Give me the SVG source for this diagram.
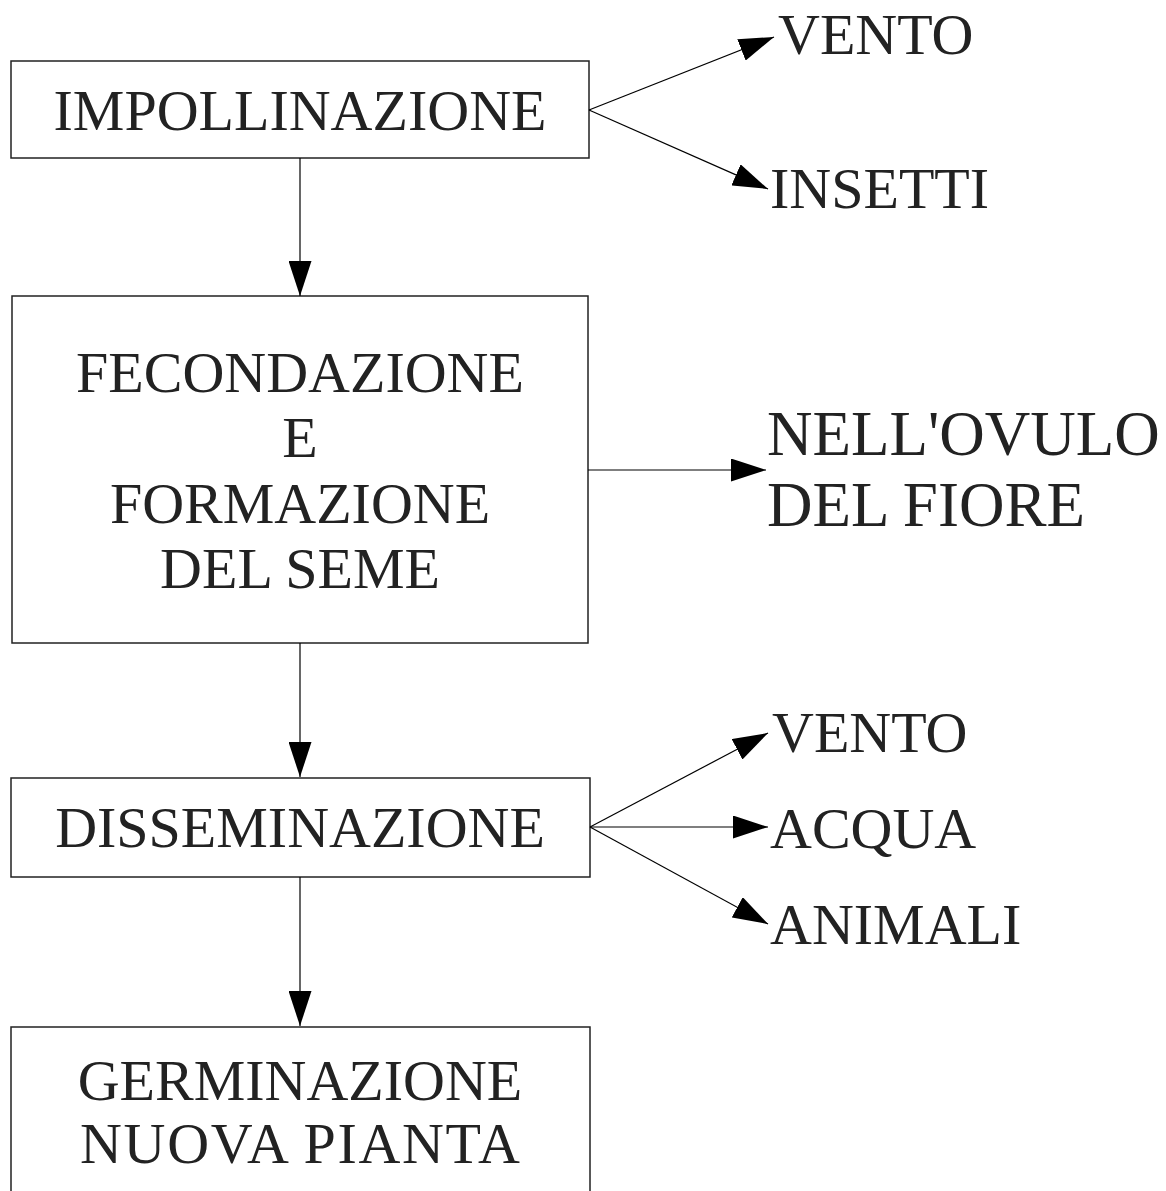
<svg xmlns="http://www.w3.org/2000/svg" width="1166" height="1191" viewBox="0 0 1166 1191">
<style>
.box{fill:#fff;stroke:#222;stroke-width:1.5}
.t{font-family:"Liberation Serif","Times New Roman",serif;font-size:58px;fill:#222;text-anchor:middle}
.l{font-family:"Liberation Serif","Times New Roman",serif;font-size:58px;fill:#222}
.big{font-size:63px}
.c{stroke:#000;stroke-width:1.2;fill:none;marker-end:url(#ah)}
</style>
<defs>
<marker id="ah" markerWidth="35" markerHeight="23" refX="35" refY="11.5" orient="auto" markerUnits="userSpaceOnUse">
<path d="M0,0 L35,11.5 L0,23 z" fill="#000"/>
</marker>
</defs>
<rect width="1166" height="1191" fill="#fff"/>
<g id="n-impollinazione">
<rect class="box" x="11" y="61" width="578" height="97"/>
<text class="t" x="300" y="130">IMPOLLINAZIONE</text>
</g>
<g id="n-vento1"><text class="l" x="778" y="54">VENTO</text></g>
<g id="n-insetti"><text class="l" x="770" y="208">INSETTI</text></g>
<g id="n-fecondazione">
<rect class="box" x="12" y="296" width="576" height="347"/>
<text class="t" x="300" y="392">FECONDAZIONE</text>
<text class="t" x="300" y="457">E</text>
<text class="t" x="300" y="523">FORMAZIONE</text>
<text class="t" x="300" y="588">DEL SEME</text>
</g>
<g id="n-ovulo">
<text class="l big" x="767" y="455">NELL'OVULO</text>
<text class="l big" x="767" y="526">DEL FIORE</text>
</g>
<g id="n-disseminazione">
<rect class="box" x="11" y="778" width="579" height="99"/>
<text class="t" x="300" y="847">DISSEMINAZIONE</text>
</g>
<g id="n-vento2"><text class="l" x="772" y="752">VENTO</text></g>
<g id="n-acqua"><text class="l" x="770" y="848">ACQUA</text></g>
<g id="n-animali"><text class="l" x="770" y="944">ANIMALI</text></g>
<g id="n-germinazione">
<rect class="box" x="11" y="1027" width="579" height="170"/>
<text class="t" x="300" y="1100">GERMINAZIONE</text>
<text class="t" x="300" y="1163" textLength="440" lengthAdjust="spacing">NUOVA PIANTA</text>
</g>
<g id="connectors">
<line class="c" x1="300" y1="158" x2="300" y2="296"/>
<line class="c" x1="300" y1="643" x2="300" y2="777"/>
<line class="c" x1="300" y1="877" x2="300" y2="1026"/>
<line class="c" x1="589" y1="110" x2="774" y2="37"/>
<line class="c" x1="589" y1="110" x2="768" y2="189"/>
<line class="c" x1="588" y1="470" x2="766" y2="470"/>
<line class="c" x1="590" y1="827" x2="768" y2="733"/>
<line class="c" x1="590" y1="827" x2="768" y2="827"/>
<line class="c" x1="590" y1="827" x2="768" y2="924"/>
</g>
</svg>
